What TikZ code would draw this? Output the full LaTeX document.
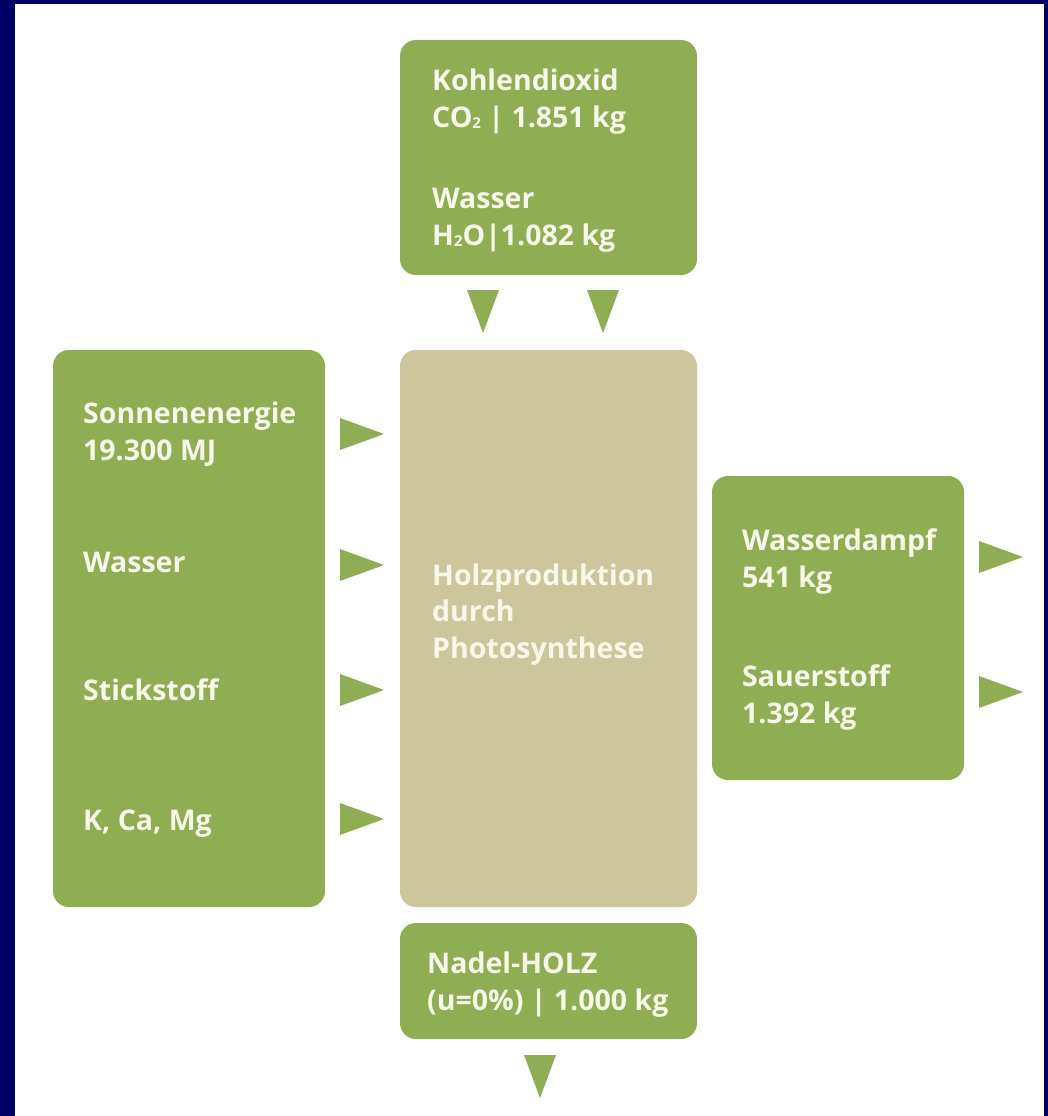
\documentclass[tikz,border=0pt]{standalone}
\usepackage{fontspec}
\setmainfont{Open Sans}
\usetikzlibrary{calc}
\definecolor{leaf}{HTML}{8FAD52}
\definecolor{sand}{HTML}{CDC69C}
\definecolor{frame}{HTML}{000066}
\definecolor{cream}{HTML}{F7F8E9}
\tikzset{lbl/.style={anchor=base west, inner sep=0pt, text=cream, align=left,
    font=\fontsize{28.5}{36.5}\selectfont\bfseries}}
\def\sub#1{\raisebox{-1pt}{\fontsize{15}{15}\selectfont #1}}
\def\arrR(#1,#2){\fill[leaf] (#1,#2-16) -- (#1+44,#2) -- (#1,#2+16) -- cycle;}
\def\arrD(#1,#2){\fill[leaf] (#1-16,#2) -- (#1+16,#2) -- (#1,#2+43) -- cycle;}

\begin{document}
\begin{tikzpicture}[x=1pt,y=-1pt]
			%%%%% FRAME %%%%%
			\fill[frame] (0,0) rectangle (1048,1116);
			\fill[white] (15,4) rectangle (1044,1116);
			
			%%%%% BOXES %%%%%
			\fill[leaf, rounded corners=16] (400,40) rectangle (697,275);
			\fill[sand, rounded corners=16] (400,350) rectangle (697,907);
			\fill[leaf, rounded corners=16] (53,350) rectangle (325,907);
			\fill[leaf, rounded corners=16] (712,476) rectangle (964,780);
			\fill[leaf, rounded corners=16] (400,923) rectangle (697,1039);
			
			%%%%% ARROWS %%%%%
			\arrD(483,290)
			\arrD(603,290)
			\arrR(340,434)
			\arrR(340,565)
			\arrR(340,690)
			\arrR(340,819)
			\arrR(979,557)
			\arrR(979,692)
			\arrD(540,1055)
			
			%%%%% TEXT (base = last line) %%%%%
			\node[lbl] (co2) at (432,127) {Kohlendioxid\\CO\sub{2} | 1.851 kg};
			\node[lbl] (h2o) at (432,245) {Wasser\\H\sub{2}O|1.082 kg};
			
			\node[lbl] (sonne) at (83,460) {Sonnenenergie\\19.300 MJ};
			\node[lbl] (wasser) at (83,572) {Wasser};
			\node[lbl] (stick) at (83,700) {Stickstoff};
			\node[lbl] (mineral) at (83,830) {K, Ca, Mg};
			
			\node[lbl] (holz) at (432,658) {Holzproduktion\\durch\\Photosynthese};
			
			\node[lbl] (dampf) at (742,587) {Wasserdampf\\541 kg};
			\node[lbl] (sauer) at (742,723) {Sauerstoff\\1.392 kg};
			
			\node[lbl] (nadel) at (427,1010) {Nadel-HOLZ\\(u=0\%) | 1.000 kg};
\end{tikzpicture}
\end{document}
